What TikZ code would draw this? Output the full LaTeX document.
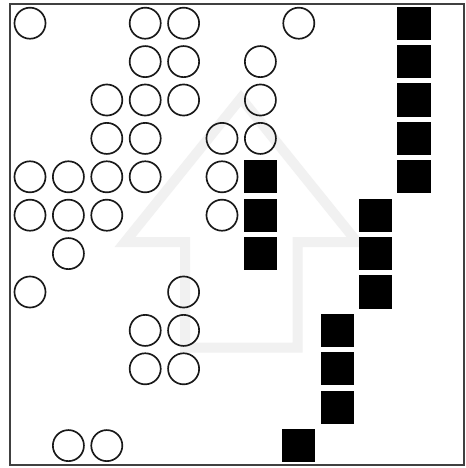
\documentclass[tikz,border=0pt]{standalone}
\begin{document}
\begin{tikzpicture}[x=0.75pt,y=-0.75pt,
  ring/.style={circle,draw=black!90,line width=1.25pt,minimum size=23.3pt,inner sep=0pt},
  blk/.style={rectangle,fill=black,minimum size=24.8pt,inner sep=0pt},
  frame/.style={draw=black!75,line width=1.5pt},
  bigarrow/.style={draw=gray!11,line width=7.5pt,miter limit=10}]
\useasboundingbox (0,0) rectangle (465,468);
\fill[white] (0,0) rectangle (465,468);
% background arrow
\coordinate (tip) at (241,98);
\coordinate (hr) at (357,242);
\coordinate (sr) at (297.5,242);
\coordinate (br) at (297.5,347.5);
\coordinate (bl) at (185,347.5);
\coordinate (sl) at (185,242);
\coordinate (hl) at (125,242);
\draw[bigarrow] (tip) -- (hr) -- (sr) -- (br) -- (bl) -- (sl) -- (hl) -- cycle;
% circles: (col,row)
\foreach \c/\r [count=\i] in {0/0,3/0,4/0,7/0,
  3/1,4/1,6/1,
  2/2,3/2,4/2,6/2,
  2/3,3/3,5/3,6/3,
  0/4,1/4,2/4,3/4,5/4,
  0/5,1/5,2/5,5/5,
  1/6,
  0/7,4/7,
  3/8,4/8,
  3/9,4/9,
  1/11,2/11}
  \node[ring] (c\i) at ({30+38.4*\c},{23.2+38.4*\r}) {};
% squares
\foreach \c/\r [count=\i] in {10/0,10/1,10/2,10/3,10/4,
  6/4,6/5,6/6,
  9/5,9/6,9/7,
  8/8,8/9,8/10,
  7/11}
  \node[blk] (s\i) at ({30+38.4*\c},{23.2+38.4*\r}) {};
% frame
\draw[frame] (10,3.5) rectangle (463.5,464.5);
\end{tikzpicture}
\end{document}
